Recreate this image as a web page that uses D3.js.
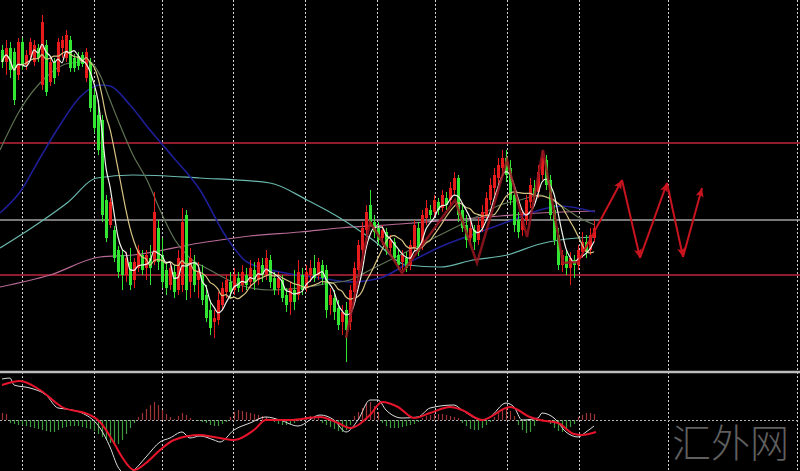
<!DOCTYPE html>
<html><head><meta charset="utf-8">
<script src="https://cdn.jsdelivr.net/npm/d3@7"></script>
<style>html,body{margin:0;padding:0;background:#000;overflow:hidden}</style>
</head><body>
<svg id="c" width="800" height="471"></svg>
<script>
// ---- price data (one entry per bar, price units) ----
const opens = [350,338,352,348,325,358,335,345,338,352,
315,355,318,338,328,352,342,360,342,344,
345,322,338,305,285,280,200,175,170,150,
145,125,138,120,132,145,132,142,138,172,
145,130,115,128,110,115,185,118,138,120,
125,105,90,78,80,95,108,118,110,122,
115,125,118,130,120,135,125,140,122,112,
120,105,98,110,105,125,112,125,132,125,
135,130,95,102,92,78,90,78,108,130,
150,170,195,178,172,162,168,152,158,145,
138,142,135,152,172,155,182,190,188,198,
192,202,200,210,222,190,175,162,170,160,
172,185,200,212,222,232,242,232,205,180,
170,180,198,212,208,225,240,220,190,165,
135,144,132,140,135,148,158,150,162];
const highs = [355,360,358,352,362,362,350,362,360,356,
385,360,342,342,362,364,370,364,346,348,
348,352,342,312,300,285,205,202,174,154,
150,148,152,142,155,150,150,155,208,180,
162,138,138,135,150,192,190,152,145,138,
135,115,100,90,108,118,125,128,132,128,
135,132,140,138,142,142,150,145,128,128,
125,112,118,130,140,132,135,140,145,142,
140,135,112,110,100,95,98,115,138,160,
178,195,210,185,178,175,172,165,162,150,
150,148,160,180,178,190,200,195,205,202,
210,208,218,228,225,195,185,180,175,182,
195,208,222,232,242,250,250,240,212,188,
188,205,222,220,235,250,245,225,195,172,
150,150,148,145,155,168,165,172,180];
const lows = [332,325,322,295,320,330,330,340,334,338,
310,304,314,316,324,342,338,328,328,330,
333,318,288,267,245,178,158,172,138,122,
110,118,110,112,128,125,120,115,135,130,
112,105,110,102,105,108,100,102,108,102,
95,78,65,62,75,90,102,102,105,108,
108,110,112,110,115,118,120,112,105,105,
98,88,85,90,100,105,108,118,118,120,
115,82,85,80,70,65,38,70,102,125,
145,165,174,162,155,155,145,145,138,130,
130,128,130,148,144,150,175,180,182,185,
188,190,195,205,178,168,152,155,150,155,
168,180,195,205,215,225,218,195,168,162,
164,175,192,200,202,220,210,180,155,130,
128,125,115,122,130,142,142,145,158];
const closes = [338,352,330,300,358,335,345,358,355,342,
378,308,338,322,358,360,365,332,332,334,
336,348,292,272,250,185,162,198,142,128,
125,142,115,138,150,130,145,132,188,138,
118,112,132,108,142,178,110,142,115,128,
100,82,72,82,100,112,120,108,125,112,
128,115,132,118,138,125,142,118,110,122,
102,95,112,98,128,110,128,132,122,138,
122,90,105,88,75,88,70,110,132,155,
172,188,178,168,160,170,150,160,142,135,
145,132,155,175,148,185,192,185,200,190,
205,195,212,222,185,172,160,172,158,175,
188,202,215,225,235,242,225,200,175,168,
182,200,215,205,228,242,215,185,160,135,
145,132,142,135,150,158,148,165,172];

// ---- slow moving averages: [bar index, price] ----
const maOlive = [[-0.5,250],[4.5,290],[10.75,322],[17,337],[22,338],[24.5,325],[27,300],[29.5,275],[32.75,245],[36.25,220],[39.5,190],[43.25,160],[47,142],[52,130],[59.5,115],[67,110],[74.5,112],[82,117],[87,120],[92,130],[99.5,145],[107,160],[112,170],[119.5,185],[124.5,195],[129.5,200],[134.5,205],[139.5,195],[144.5,182],[148.25,175]];
const maBlue = [[-0.5,187],[4.5,208],[9.5,242],[14.5,275],[19.5,303],[24.5,315],[27,314],[32,295],[37,270],[42.75,243],[49.5,210],[55.75,165],[61.25,138],[69.5,128],[79.5,122],[87,118],[94.5,122],[102,138],[109.5,153],[119.5,168],[126.25,178],[134.5,190],[139.5,194],[148.25,188]];
const maTeal = [[-0.5,152],[7.75,173],[16.25,197],[23.75,222],[32.75,225],[49.5,222],[67,217],[76.25,200],[84.5,182],[92.75,160],[101.25,135],[109.5,133],[117.75,140],[126.25,145],[134.5,156],[139.5,160],[148.25,163]];
const maPink = [[-0.5,113],[12,125],[24.5,143],[32.75,145],[49.5,157],[62,164],[74.5,168],[84.5,172],[99.5,176],[112,180],[124.5,184],[134.5,187],[148.25,189]];

// ---- zigzag swings and hand-drawn forecast ----
const zigzag = [[86,62],[92,178],[100,127],[113.25,200],[118.75,137],[126.25,240],[131.25,163],[135.25,250],[140.25,137],[144,138]];
const forecast = [[144,138],[155,220],[159.5,142],[166.25,217],[170.25,143],[175,212]];

// ---- horizontal levels ----
const redLevels = [257,125];
const grayLevels = [180];

// ---- time separators (bar index) ----
const gridIdx = [5,23,40,57.75,75.75,93.75,108.25,126.25,144.25,166.5,198.75];

// ---- MACD panel ----
const macdLine = [[0,41],[2,42],[3,35],[7,32],[11,25],[14,12],[16,11],[21,5],[24.5,-8],[27,-27],[29,-47],[31,-54],[33,-50],[36,-37],[39.5,-22],[42,-18],[45,-12],[47,-18],[49.5,-16],[53,-20],[54.5,-22],[58,-10],[62,-3],[66,3],[69.5,0],[74,-6],[79.5,5],[83,0],[86,-12],[89,0],[92,20],[94,20],[96,10],[100,2],[104,3],[107,12],[113,15],[115,10],[120,0],[122,3],[126,17],[128,13],[130,0],[134,2],[135,7],[138,2],[141,-12],[144,-17],[146,-12],[148,-6]];
const signalLine = [[0,35],[4.5,39],[9.5,30],[15,13],[22,5],[24.5,-2],[28,-23],[30,-37],[33,-50],[36,-43],[39.5,-30],[43,-20],[49.5,-15],[53,-17],[58,-20],[63,-10],[66,0],[72,0],[79.5,3],[84,-3],[87,-8],[92,5],[95,18],[99,13],[103,2],[107,7],[112,13],[115,10],[120,0],[127,13],[132,3],[134.5,0],[139,-3],[143,-14],[145,-15],[148.5,-12]];
const hist = [7,6,-3,-4,-5,-5,-6,-7,-8,-9,
-10,-11,-12,-12,-10,-8,-7,-6,-6,-6,
-7,-8,-9,-11,-14,-17,-20,-23,-25,-24,
-20,-14,-8,-3,3,7,11,15,18,15,
10,6,3,1,4,7,5,2,0,-1,
-2,-3,-5,-6,-6,-4,-2,3,8,10,
9,8,7,6,5,4,3,1,-2,-4,
-5,-5,-4,-3,-1,1,3,4,4,2,
-3,-5,-7,-9,-11,-12,-10,-5,4,8,
12,16,18,14,8,-3,-6,-8,-8,-8,
-7,-6,-5,-4,-2,2,4,5,6,6,
6,5,4,3,2,-3,-6,-9,-10,-10,
-8,-5,-2,3,7,11,12,9,4,-5,
-10,-13,-12,-6,-1,1,0,-4,-8,-11,
-12,-10,-7,-4,3,5,7,7,6];

const W = 800, H = 471;
const svg = d3.select('#c');
svg.append('rect').attr('width', W).attr('height', H).attr('fill', '#000');

const x = d3.scaleLinear().domain([0, 200]).range([2, 802]);
const y = d3.scaleLinear().domain([0, 400]).range([400, 0]);
const ym = d3.scaleLinear().domain([-50, 50]).range([470, 370]);

const defs = svg.append('defs');
defs.append('clipPath').attr('id', 'cm').append('rect').attr('x', 0).attr('y', 0).attr('width', W).attr('height', 371);
defs.append('clipPath').attr('id', 'cs').append('rect').attr('x', 0).attr('y', 373).attr('width', W).attr('height', 98);
defs.append('marker').attr('id', 'arr').attr('markerUnits', 'userSpaceOnUse')
  .attr('markerWidth', 10).attr('markerHeight', 10).attr('refX', 9).attr('refY', 5).attr('orient', 'auto')
  .append('path').attr('d', 'M0,1 L9,5 L0,9 L2,5 Z').attr('fill', '#c8141e');

// grid lines (full height)
svg.append('g').selectAll('line').data(gridIdx).join('line')
  .attr('x1', d => Math.round(x(d)) + 0.5).attr('x2', d => Math.round(x(d)) + 0.5)
  .attr('y1', 0).attr('y2', H)
  .attr('stroke', '#d0d0d0').attr('stroke-width', 1).attr('stroke-dasharray', '2,2');

const main = svg.append('g').attr('clip-path', 'url(#cm)');

// horizontal levels
main.append('g').selectAll('line').data(redLevels).join('line')
  .attr('x1', 0).attr('x2', W).attr('y1', d => y(d)).attr('y2', d => y(d))
  .attr('stroke', '#8e1c2c').attr('stroke-width', 2);
main.append('g').selectAll('line').data(grayLevels).join('line')
  .attr('x1', 0).attr('x2', W).attr('y1', d => y(d)).attr('y2', d => y(d))
  .attr('stroke', '#a0a0a0').attr('stroke-width', 1.5);

const lineP = d3.line().x(d => x(d[0])).y(d => y(d[1])).curve(d3.curveMonotoneX);
const slow = [[maPink, '#b86a96', 1.2], [maTeal, '#6ab8ae', 1.2], [maBlue, '#1e1e96', 1.6], [maOlive, '#5f7352', 1.2]];
slow.forEach(([pts, col, w]) => {
  main.append('path').datum(pts).attr('d', lineP).attr('fill', 'none').attr('stroke', col).attr('stroke-width', w);
});

// candles
const bars = closes.map((c, i) => ({ i, o: opens[i], h: highs[i], l: lows[i], c }));
const col = d => d.c >= d.o ? '#e61c1c' : '#34e634';
const gc = main.append('g');
gc.selectAll('line').data(bars).join('line')
  .attr('x1', d => x(d.i) + 0.5).attr('x2', d => x(d.i) + 0.5)
  .attr('y1', d => y(d.h)).attr('y2', d => y(d.l))
  .attr('stroke', col).attr('stroke-width', 1);
gc.selectAll('rect').data(bars).join('rect')
  .attr('x', d => x(d.i) - 1).attr('width', 3)
  .attr('y', d => y(Math.max(d.o, d.c)))
  .attr('height', d => Math.max(1, Math.abs(y(d.o) - y(d.c))))
  .attr('fill', col);

// fast moving averages from closes
function sma(arr, n) { return arr.map((_, i) => [i, d3.mean(arr.slice(Math.max(0, i - n + 1), i + 1))]); }
main.append('path').datum(sma(closes, 10)).attr('d', lineP).attr('fill', 'none').attr('stroke', '#d8c383').attr('stroke-width', 1.2);
main.append('path').datum(sma(closes, 5)).attr('d', lineP).attr('fill', 'none').attr('stroke', '#f2f2ea').attr('stroke-width', 1.2);

// zigzag
main.append('path').datum(zigzag).attr('d', d3.line().x(d => x(d[0])).y(d => y(d[1])))
  .attr('fill', 'none').attr('stroke', '#9a1620').attr('stroke-width', 2.5).attr('stroke-opacity', 0.85);

// forecast arrows
const segs = d3.pairs(forecast);
main.append('g').selectAll('line').data(segs).join('line')
  .attr('x1', d => x(d[0][0])).attr('y1', d => y(d[0][1]))
  .attr('x2', d => x(d[1][0])).attr('y2', d => y(d[1][1]))
  .attr('stroke', '#c8141e').attr('stroke-width', 2).attr('marker-end', 'url(#arr)');

// separator
svg.append('line').attr('x1', 0).attr('x2', W).attr('y1', 372).attr('y2', 372)
  .attr('stroke', '#bdbdbd').attr('stroke-width', 2.5);

// MACD panel
const sub = svg.append('g').attr('clip-path', 'url(#cs)');
sub.append('line').attr('x1', 0).attr('x2', W).attr('y1', ym(0) + 0.5).attr('y2', ym(0) + 0.5)
  .attr('stroke', '#b4b4b4').attr('stroke-width', 1).attr('stroke-dasharray', '2,2');
sub.append('g').selectAll('line').data(hist).join('line')
  .attr('x1', (d, i) => x(i) + 0.5).attr('x2', (d, i) => x(i) + 0.5)
  .attr('y1', ym(0)).attr('y2', d => ym(d))
  .attr('stroke', d => d >= 0 ? '#a03434' : '#3f9a3f').attr('stroke-width', 1.2);
const lineM = d3.line().x(d => x(d[0])).y(d => ym(d[1])).curve(d3.curveMonotoneX);
sub.append('path').datum(macdLine).attr('d', lineM).attr('fill', 'none').attr('stroke', '#dcdcdc').attr('stroke-width', 1);
sub.append('path').datum(signalLine).attr('d', lineM).attr('fill', 'none').attr('stroke', '#e8142c').attr('stroke-width', 2);

// watermark
svg.append('text').attr('x', 672).attr('y', 457)
  .attr('font-family', '"Noto Sans CJK SC", sans-serif').attr('font-weight', 300)
  .attr('font-size', 39).attr('fill', '#5f5f5f').text('汇外网');
</script>
</body></html>
